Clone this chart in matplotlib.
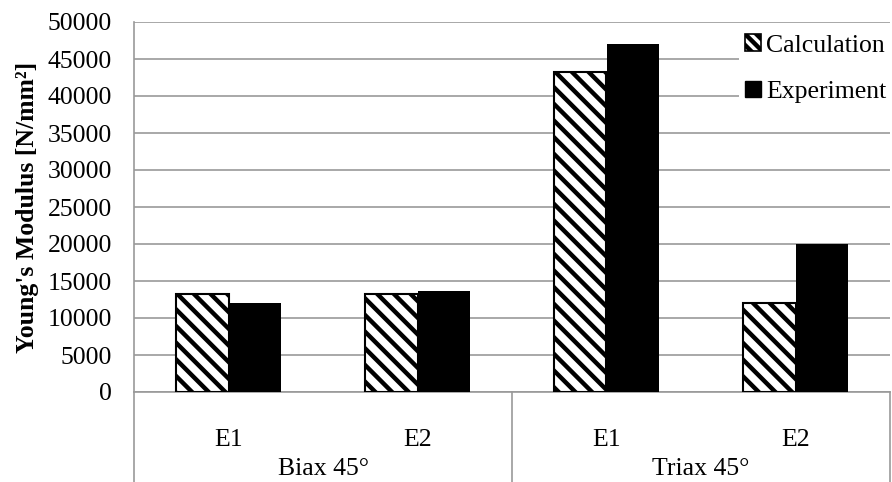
import matplotlib
matplotlib.use("Agg")
import matplotlib.pyplot as plt
from matplotlib.patches import Patch
from matplotlib.transforms import blended_transform_factory
import numpy as np

groups = ["Biax 45°", "Triax 45°"]
subcats = ["E1", "E2", "E1", "E2"]
calculation = [13250, 13250, 43300, 12000]
experiment = [12000, 13700, 47000, 20000]
yticks = [0, 5000, 10000, 15000, 20000, 25000, 30000, 35000, 40000, 45000, 50000]

plt.rcParams['font.family'] = ['Liberation Serif', 'DejaVu Serif']
plt.rcParams['hatch.linewidth'] = 3.2

FS = 18.5

fig = plt.figure(figsize=(8.92, 4.82), dpi=100)
ax = fig.add_axes([134/892, 1-392/482, 756/892, 370/482])

x = np.arange(len(subcats))
w = 0.28
ax.bar(x - w/2, calculation, w, facecolor='white', edgecolor='black', hatch='\\\\', linewidth=1.5, zorder=3, label='Calculation')
ax.bar(x + w/2, experiment, w, color='black', edgecolor='black', linewidth=0, zorder=3, label='Experiment')

ax.set_xlim(-0.5, len(subcats) - 0.5)
ax.set_ylim(0, 50000)
ax.set_yticks(yticks)
ax.set_yticklabels([str(v) for v in yticks], fontsize=FS)
ax.tick_params(axis='y', length=0, pad=16)
ax.yaxis.grid(True, color='#999999', linewidth=1.2, zorder=0)
ax.set_axisbelow(True)
for s in ['top', 'right']:
    ax.spines[s].set_visible(False)
ax.spines['left'].set_color('#999999')
ax.spines['bottom'].set_color('#999999')
ax.spines['left'].set_linewidth(1.2)
ax.spines['bottom'].set_linewidth(1.2)

ax.set_xticks(x)
ax.set_xticklabels([])
ax.tick_params(axis='x', length=0)

tr = blended_transform_factory(ax.transData, ax.transAxes)
ax_h = 370.0
def ay(py):
    return (392 - py) / ax_h

for xi, lab in zip(x, subcats):
    ax.text(xi, ay(440), lab, transform=tr, ha='center', va='center', fontsize=FS, clip_on=False)
for gi, g in enumerate(groups):
    ax.text(gi*2 + 0.5, ay(469), g, transform=tr, ha='center', va='center', fontsize=FS, clip_on=False)
for xv in [-0.5, 1.5, 3.5]:
    ax.plot([xv, xv], [0, ay(482)], transform=tr, color='#999999', linewidth=1.2, clip_on=False)

ax.set_ylabel("Young's Modulus [N/mm²]", fontsize=FS, fontweight='bold', labelpad=6)

handles = [Patch(facecolor='white', edgecolor='black', hatch='\\\\\\', linewidth=1.2),
           Patch(facecolor='black', edgecolor='black')]
leg = fig.legend(handles, ['Calculation', 'Experiment'], loc='upper left',
                 bbox_to_anchor=(739/892, 1 - 28/482), frameon=True, fontsize=FS,
                 handlelength=0.6, handleheight=0.6, handletextpad=0.2,
                 labelspacing=0.95, borderpad=0.25, borderaxespad=0)
leg.get_frame().set_facecolor('white')
leg.get_frame().set_edgecolor('none')
leg.get_frame().set_alpha(1)

fig.savefig("out.png", dpi=100)
